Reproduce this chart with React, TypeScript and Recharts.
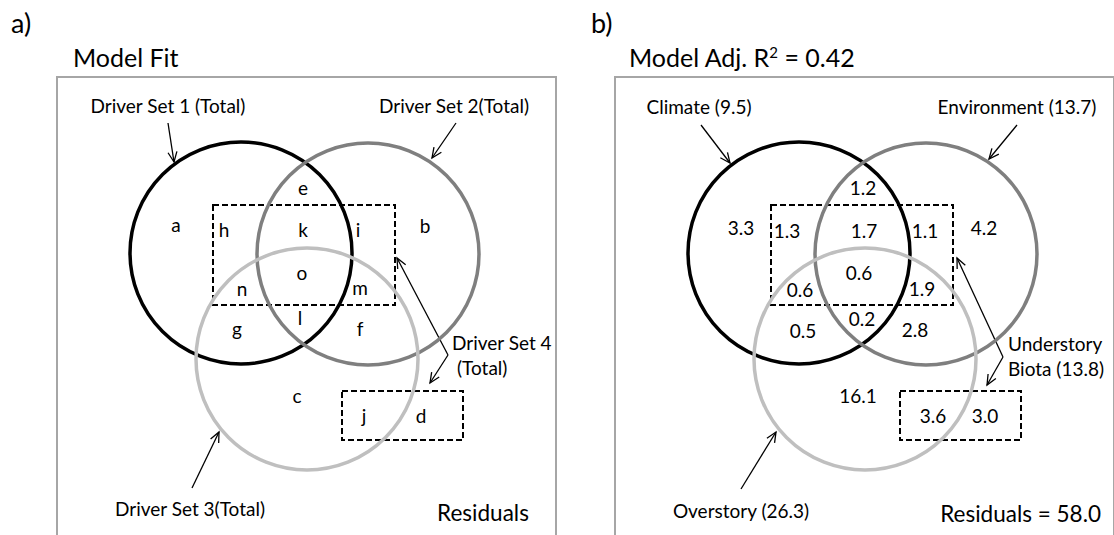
import React from 'react';
import { ScatterChart, Scatter, XAxis, YAxis, ReferenceArea, ReferenceLine } from 'recharts';

const FONT = 'Lato, "Liberation Sans", sans-serif';

// variance partition regions, same order in both panels
const regionKeys = ['a', 'b', 'c', 'd', 'e', 'f', 'g', 'h', 'i', 'j', 'k', 'l', 'm', 'n', 'o'];
const adjValues = ['3.3', '4.2', '16.1', '3.0', '1.2', '2.8', '0.5', '1.3', '1.1', '3.6', '1.7', '0.2', '1.9', '0.6', '0.6'];

const driverSetNames = ['Driver Set 1 (Total)', 'Driver Set 2(Total)', 'Driver Set 3(Total)', 'Driver Set 4', '(Total)'];
const groupNames = ['Climate', 'Environment', 'Overstory', 'Understory', 'Biota'];
const groupTotals = [9.5, 13.7, 26.3, 13.8];
const residualValue = 58.0;
const adjR2 = 0.42;

// diagram layout, 1 unit = 1 px inside a panel
const PW = 557;
const PH = 535;
const circles = [
  { x: 241, y: 253, r: 111 },
  { x: 368, y: 254, r: 111 },
  { x: 307, y: 359, r: 111 },
];
const circleStroke = ['#000000', '#7f7f7f', '#bfbfbf'];
const dashedBoxes = [
  { x1: 213, x2: 395, y1: 205, y2: 305 },
  { x1: 342, x2: 463, y1: 391, y2: 440 },
];
// frame runs past the bottom of the picture
const frame = { x1: 57, x2: 556, y1: 77, y2: 545 };

const fitPos = [
  [176, 224], [425, 225], [297, 395], [421, 415], [303, 187], [360, 328], [237, 328], [224, 229],
  [358, 229], [364, 415], [303, 229], [300, 317], [360, 287], [242, 288], [302, 272],
];
const adjPos = [
  [183, 227], [426, 227], [300, 395], [427, 415], [305, 187], [357, 329], [245, 330], [229, 230],
  [367, 230], [375, 415], [306, 230], [304, 318], [364, 288], [242, 289], [301, 272],
];

type Pt = { x: number; y: number };
type Arrow = { from: Pt; to: Pt };

const fitArrows: Arrow[] = [
  { from: { x: 168, y: 123 }, to: { x: 174, y: 162 } },
  { from: { x: 456, y: 123 }, to: { x: 432, y: 158 } },
  { from: { x: 192, y: 488 }, to: { x: 219, y: 432 } },
  { from: { x: 448, y: 355 }, to: { x: 397, y: 258 } },
  { from: { x: 448, y: 355 }, to: { x: 430, y: 383 } },
];
const adjArrows: Arrow[] = [
  { from: { x: 143, y: 125 }, to: { x: 172, y: 163 } },
  { from: { x: 459, y: 125 }, to: { x: 431, y: 159 } },
  { from: { x: 183, y: 489 }, to: { x: 218, y: 432 } },
  { from: { x: 445, y: 357 }, to: { x: 399, y: 258 } },
  { from: { x: 445, y: 357 }, to: { x: 429, y: 385 } },
];

type Label = { x: number; y: number; text: string; size?: number; anchor?: string };

const fitLabels: Label[] = [
  ...regionKeys.map((k, i) => ({ x: fitPos[i][0], y: fitPos[i][1], text: k })),
  { x: 168, y: 105, text: driverSetNames[0] },
  { x: 454, y: 105, text: driverSetNames[1] },
  { x: 190, y: 508, text: driverSetNames[2] },
  { x: 452, y: 342, text: driverSetNames[3], anchor: 'start' },
  { x: 457, y: 367, text: driverSetNames[4], anchor: 'start' },
  { x: 483, y: 512, text: 'Residuals', size: 22.5 },
];
const adjLabels: Label[] = [
  ...regionKeys.map((k, i) => ({ x: adjPos[i][0], y: adjPos[i][1], text: adjValues[i] })),
  { x: 141, y: 106, text: `${groupNames[0]} (${groupTotals[0].toFixed(1)})` },
  { x: 459, y: 106, text: `${groupNames[1]} (${groupTotals[1].toFixed(1)})` },
  { x: 183, y: 510, text: `${groupNames[2]} (${groupTotals[2].toFixed(1)})` },
  { x: 450, y: 343, text: groupNames[3], anchor: 'start' },
  { x: 450, y: 368, text: `${groupNames[4]} (${groupTotals[3].toFixed(1)})`, anchor: 'start' },
  { x: 543, y: 513, text: `Residuals = ${residualValue.toFixed(1)}`, size: 22.5, anchor: 'end' },
];

const arrowShape = (props: any) => {
  const { x1, y1, x2, y2 } = props;
  const t = Math.atan2(y2 - y1, x2 - x1);
  const L = 11;
  const s = 0.42;
  const p1 = [x2 - L * Math.cos(t - s), y2 - L * Math.sin(t - s)];
  const p2 = [x2 - L * Math.cos(t + s), y2 - L * Math.sin(t + s)];
  return (
    <g>
      <line x1={x1} y1={y1} x2={x2} y2={y2} stroke="#000" strokeWidth={1.3} />
      <path d={`M${p1[0]},${p1[1]} L${x2},${y2} L${p2[0]},${p2[1]}`} fill="none" stroke="#000" strokeWidth={1.3} />
    </g>
  );
};

function Panel({ labels, arrows }: { labels: Label[]; arrows: Arrow[] }) {
  return (
    <ScatterChart width={PW} height={PH} margin={{ top: 0, right: 0, bottom: 0, left: 0 }}>
      <XAxis type="number" dataKey="x" domain={[0, PW]} hide />
      <YAxis type="number" dataKey="y" domain={[0, PH]} reversed hide />
      <ReferenceArea {...frame} fill="none" fillOpacity={0} stroke="#a6a6a6" strokeWidth={2} ifOverflow="visible" />
      {dashedBoxes.map((b, i) => (
        <ReferenceArea key={i} {...b} fill="none" fillOpacity={0} stroke="#000" strokeWidth={2} strokeDasharray="6 3" ifOverflow="visible" />
      ))}
      <Scatter
        data={circles.map((c, i) => ({ ...c, id: i }))}
        isAnimationActive={false}
        shape={(p: any) => (
          <circle cx={p.cx} cy={p.cy} r={p.payload.r} fill="none" stroke={circleStroke[p.payload.id]} strokeWidth={3.5} />
        )}
      />
      {arrows.map((a, i) => (
        <ReferenceLine key={i} segment={[a.from, a.to]} ifOverflow="visible" shape={arrowShape} />
      ))}
      <Scatter
        data={labels}
        isAnimationActive={false}
        shape={(p: any) => (
          <text
            x={p.cx}
            y={p.cy}
            textAnchor={p.payload.anchor || 'middle'}
            dominantBaseline="central"
            fontFamily={FONT}
            fontSize={p.payload.size || 19}
            fill="#000"
          >
            {p.payload.text}
          </text>
        )}
      />
    </ScatterChart>
  );
}

export default function App() {
  const head: React.CSSProperties = { position: 'absolute', fontFamily: FONT, lineHeight: 1, color: '#000', whiteSpace: 'nowrap' };
  return (
    <div style={{ position: 'absolute', left: 0, top: 0, width: 1114, height: 535, background: '#fff', overflow: 'hidden' }}>
      <div style={{ ...head, left: 11, top: 9, fontSize: 27 }}>a)</div>
      <div style={{ ...head, left: 73, top: 45, fontSize: 25 }}>Model Fit</div>
      <div style={{ ...head, left: 591, top: 9, fontSize: 27 }}>b)</div>
      <div style={{ ...head, left: 629, top: 45, fontSize: 25 }}>
        Model Adj. R<span style={{ fontSize: 15, verticalAlign: 'top', position: 'relative', top: 0 }}>2</span> = {adjR2.toFixed(2)}
      </div>
      <div style={{ position: 'absolute', left: 0, top: 0 }}>
        <Panel labels={fitLabels} arrows={fitArrows} />
      </div>
      <div style={{ position: 'absolute', left: 558, top: 0 }}>
        <Panel labels={adjLabels} arrows={adjArrows} />
      </div>
    </div>
  );
}
